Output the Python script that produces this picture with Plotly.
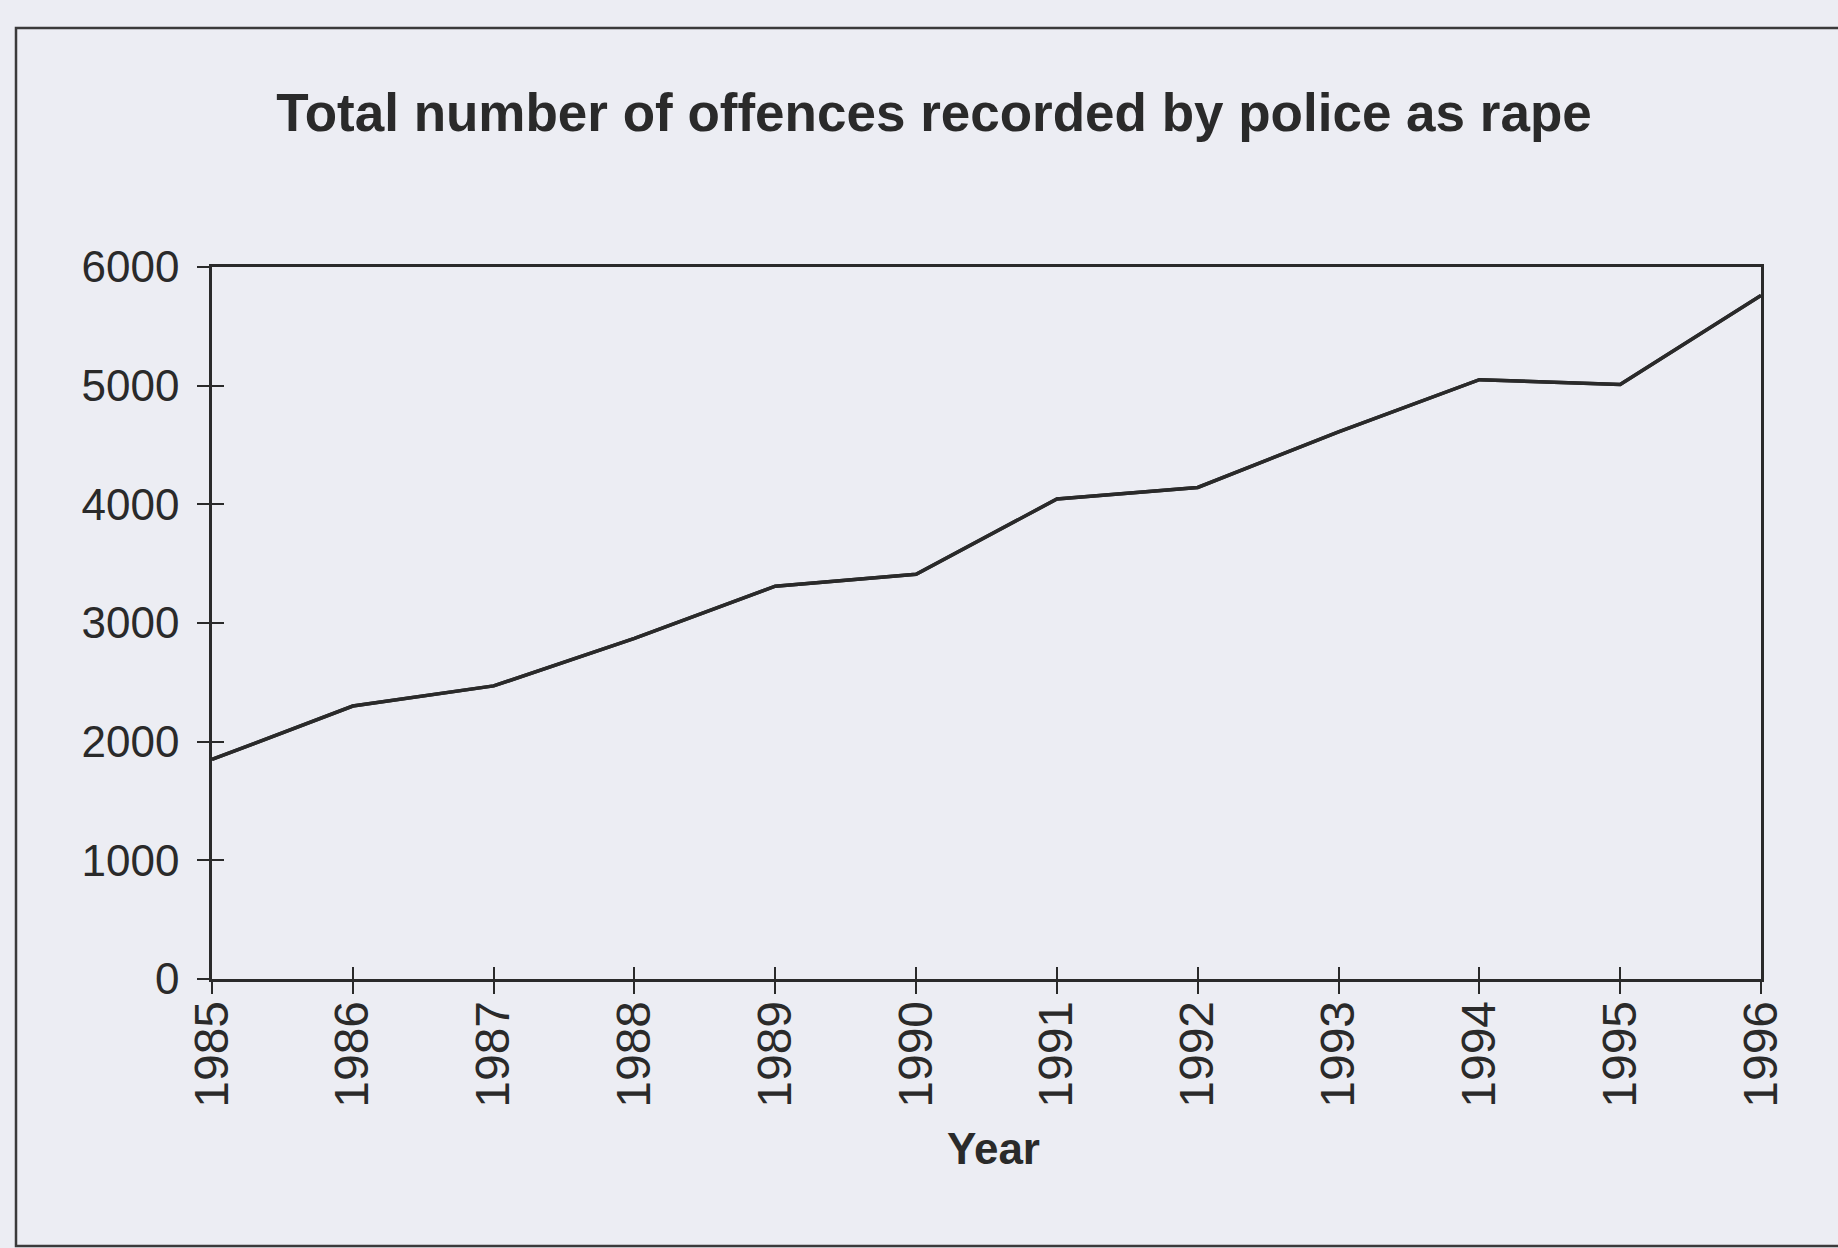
import plotly.graph_objects as go

# Offences recorded by police as rape, by year
years = [1985, 1986, 1987, 1988, 1989, 1990, 1991, 1992, 1993, 1994, 1995, 1996]
offences = [1850, 2300, 2470, 2870, 3310, 3410, 4045, 4142, 4610, 5050, 5010, 5760]
y_ticks = [0, 1000, 2000, 3000, 4000, 5000, 6000]

title_text = "Total number of offences recorded by police as rape"
x_title = "Year"

W, H = 1838, 1248
ML, MR, MT, MB = 212, 77, 267, 269
PW, PH = W - ML - MR, H - MT - MB

BG = "#ecedf3"
INK = "#2a2a2a"
FONT = "Arial, Liberation Sans, sans-serif"


def px_x(px):
    return (px - ML) / PW


def px_y(py):
    return (H - MB - py) / PH


fig = go.Figure()

# series drawn on the main axes and on the overlay axes (which carry the inner tick marks)
for xa, ya in (("x", "y"), ("x2", "y2")):
    fig.add_trace(go.Scatter(
        x=years, y=offences, mode="lines",
        line=dict(color=INK, width=3.5),
        xaxis=xa, yaxis=ya, showlegend=False, hoverinfo="skip",
    ))

axis_common = dict(
    showgrid=False, zeroline=False,
    showline=True, linecolor=INK, linewidth=2.5,
    tickcolor=INK, tickwidth=2, ticklen=12,
)

fig.update_layout(
    width=W, height=H,
    margin=dict(l=ML, r=MR, t=MT, b=MB, pad=0),
    paper_bgcolor=BG, plot_bgcolor=BG,
    showlegend=False,
    title=dict(
        text=f"<b>{title_text}</b>",
        font=dict(family=FONT, size=53, color=INK),
        x=934 / W, xanchor="center", xref="container",
        y=1 - 112 / H, yanchor="middle", yref="container",
    ),
    xaxis=dict(
        range=[years[0], years[-1]], tickmode="array", tickvals=years,
        ticktext=[str(v) for v in years], tickangle=-90,
        tickfont=dict(family=FONT, size=48, color=INK),
        ticklabelstandoff=-12,
        ticks="outside", mirror=True, **axis_common,
    ),
    yaxis=dict(
        range=[0, 6000], tickmode="array", tickvals=y_ticks,
        ticktext=[str(v) for v in y_ticks],
        tickfont=dict(family=FONT, size=44, color=INK),
        ticklabelstandoff=9,
        ticks="outside", mirror=True, **axis_common,
    ),
    xaxis2=dict(
        range=[years[0], years[-1]], tickmode="array", tickvals=years,
        overlaying="x", anchor="y2", side="bottom",
        ticks="inside", showticklabels=False, **axis_common,
    ),
    yaxis2=dict(
        range=[0, 6000], tickmode="array", tickvals=y_ticks,
        overlaying="y", anchor="x2", side="left",
        ticks="inside", showticklabels=False, **axis_common,
    ),
)

fig.add_annotation(
    text=f"<b>{x_title}</b>", xref="paper", yref="paper",
    x=px_x(993), y=px_y(1148), xanchor="center", yanchor="middle",
    showarrow=False, font=dict(family=FONT, size=44, color=INK),
)

# outer frame around the whole chart
fig.add_shape(
    type="rect", xref="paper", yref="paper",
    x0=px_x(16), x1=px_x(1860), y0=px_y(1246), y1=px_y(28),
    line=dict(color="#3a3a3a", width=2.5), fillcolor="rgba(0,0,0,0)",
    layer="below",
)

fig.write_html("out.html")
